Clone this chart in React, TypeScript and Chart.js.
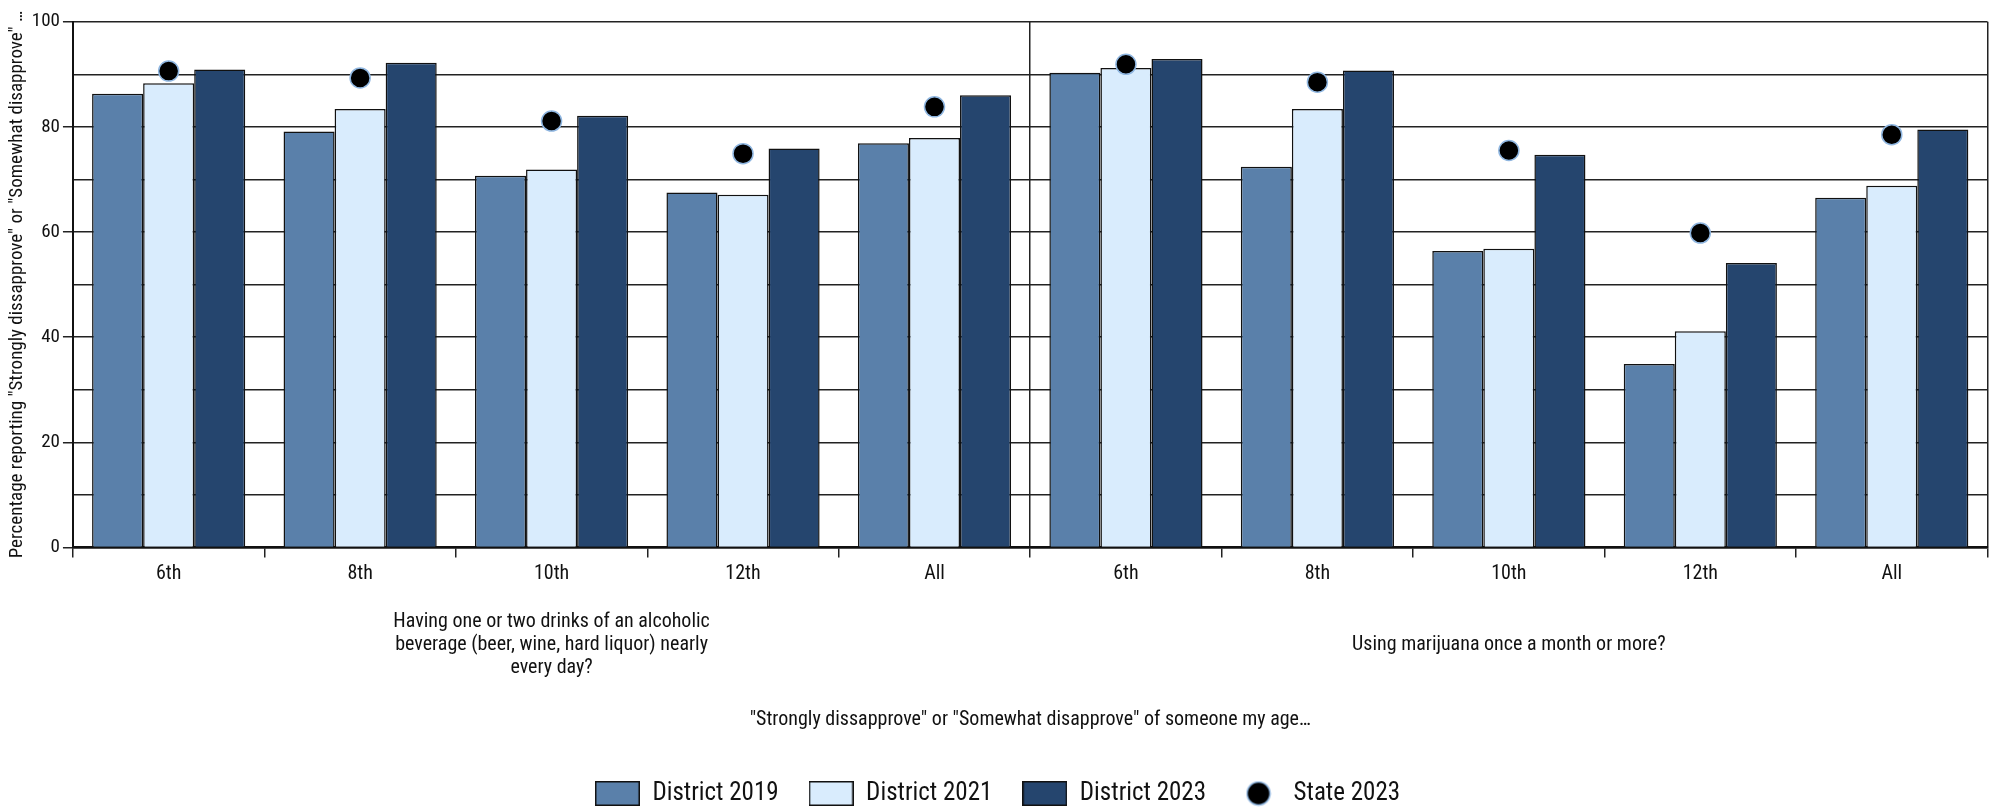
import React, { useEffect, useRef } from 'react';
import { Chart, registerables } from 'chart.js';

Chart.register(...registerables);

const GRADES = ['6th', '8th', '10th', '12th', 'All', '6th', '8th', '10th', '12th', 'All'];
const GROUP_LABELS = [
  ['Having one or two drinks of an alcoholic', 'beverage (beer, wine, hard liquor) nearly', 'every day?'],
  ['', 'Using marijuana once a month or more?', ''],
];
const SERIES_NAMES = ['District 2019', 'District 2021', 'District 2023', 'State 2023'];
const DISTRICT_2019 = [86.3, 79.1, 70.7, 67.5, 76.9, 90.3, 72.4, 56.4, 34.9, 66.5];
const DISTRICT_2021 = [88.3, 83.4, 71.9, 67.1, 77.9, 91.2, 83.4, 56.8, 41.1, 68.8];
const DISTRICT_2023 = [90.9, 92.2, 82.1, 75.9, 86.0, 92.9, 90.7, 74.7, 54.1, 79.5];
const STATE_2023 = [90.6, 89.3, 81.1, 74.9, 83.8, 91.9, 88.5, 75.5, 59.8, 78.5];
const Y_TICKS_LABELED = [0, 20, 40, 60, 80, 100];

const Y_TITLE = 'Percentage reporting "Strongly dissapprove" or "Somewhat disapprove" \u2026';
const X_TITLE = '"Strongly dissapprove" or "Somewhat disapprove" of someone my age\u2026';

const COLORS = ['#5a80aa', '#d9ecfd', '#25456e'];
const DOT_BORDER = '#8fb6e0';
const FONT = '"Liberation Sans Narrow", "Arial Narrow", "Roboto Condensed", "Liberation Sans", sans-serif';

function makeRect(fill: string) {
  const c = document.createElement('canvas');
  c.width = 45;
  c.height = 25;
  const g = c.getContext('2d')!;
  g.fillStyle = fill;
  g.fillRect(0, 0, 45, 25);
  g.strokeStyle = '#111';
  g.lineWidth = 1.5;
  g.strokeRect(0.75, 0.75, 43.5, 23.5);
  return c;
}

function makeDot() {
  const c = document.createElement('canvas');
  c.width = 26;
  c.height = 26;
  const g = c.getContext('2d')!;
  g.beginPath();
  g.arc(13, 13, 11.5, 0, Math.PI * 2);
  g.fillStyle = '#000';
  g.fill();
  g.strokeStyle = DOT_BORDER;
  g.lineWidth = 1.5;
  g.stroke();
  return c;
}

export default function App() {
  const ref = useRef<HTMLCanvasElement | null>(null);

  useEffect(() => {
    if (!ref.current) return;
    Chart.defaults.font.family = FONT;
    Chart.defaults.color = '#111';
    const legendImages = [makeRect(COLORS[0]), makeRect(COLORS[1]), makeRect(COLORS[2]), makeDot()];

    const chart = new Chart(ref.current, {
      type: 'bar',
      data: {
        labels: GRADES,
        datasets: [
          {
            type: 'line',
            label: SERIES_NAMES[3],
            data: STATE_2023,
            showLine: false,
            pointRadius: 10,
            pointHoverRadius: 10,
            pointBackgroundColor: '#000',
            pointBorderColor: DOT_BORDER,
            pointBorderWidth: 1.5,
            order: 0,
          } as any,
          {
            label: SERIES_NAMES[0],
            data: DISTRICT_2019,
            backgroundColor: COLORS[0],
            borderColor: '#111',
            borderWidth: 1.5,
            order: 1,
          },
          {
            label: SERIES_NAMES[1],
            data: DISTRICT_2021,
            backgroundColor: COLORS[1],
            borderColor: '#111',
            borderWidth: 1.5,
            order: 2,
          },
          {
            label: SERIES_NAMES[2],
            data: DISTRICT_2023,
            backgroundColor: COLORS[2],
            borderColor: '#111',
            borderWidth: 1.5,
            order: 3,
          },
        ],
      },
      options: {
        responsive: false,
        animation: false,
        devicePixelRatio: 1,
        datasets: { bar: { barPercentage: 1.0, categoryPercentage: 0.8 } },
        layout: { padding: { top: 21.7, left: 2, right: 6, bottom: -8 } },
        plugins: {
          tooltip: { enabled: false },
          legend: {
            position: 'bottom',
            labels: {
              usePointStyle: true,
              pointStyleWidth: 45,
              boxHeight: 25,
              padding: 30,
              color: '#111',
              font: { size: 25, family: FONT },
              generateLabels: () =>
                SERIES_NAMES.map((name, i) => ({
                  text: name,
                  pointStyle: legendImages[i] as any,
                  fillStyle: i < 3 ? COLORS[i] : '#000',
                  strokeStyle: '#111',
                  lineWidth: 0,
                  hidden: false,
                  datasetIndex: i === 3 ? 0 : i + 1,
                  fontColor: '#111',
                })),
            },
          },
        },
        scales: {
          x: {
            type: 'category',
            offset: true,
            weight: 0,
            grid: {
              offset: true,
              lineWidth: 1.5,
              tickLength: 10,
              tickWidth: 1.5,
              tickColor: '#222',
              color: (ctx: any) => (ctx.index === 5 || ctx.type === 'scale' ? '#222' : 'rgba(0,0,0,0)'),
            },
            border: { color: '#111', width: 2.5 },
            ticks: { font: { size: 20 }, color: '#111', padding: 5, maxRotation: 0, autoSkip: false },
          },
          x2: {
            type: 'category',
            labels: GROUP_LABELS as any,
            offset: true,
            weight: 1,
            position: 'bottom',
            grid: { display: false, drawTicks: false },
            border: { display: false },
            ticks: { font: { size: 20, lineHeight: 1.15 }, color: '#111', padding: 19.5, maxRotation: 0, autoSkip: false },
            title: {
              display: true,
              text: X_TITLE,
              font: { size: 20 },
              color: '#111',
              padding: { top: 9, bottom: 18.6 },
            },
          } as any,
          y: {
            min: 0,
            max: 100,
            ticks: {
              stepSize: 10,
              font: { size: 19 },
              color: '#111',
              padding: 3,
              callback: (v: any) => (Y_TICKS_LABELED.includes(Number(v)) ? String(v) : ''),
            },
            grid: {
              color: '#222',
              lineWidth: 1.5,
              tickLength: 10,
              tickColor: (ctx: any) =>
                ctx.tick && Y_TICKS_LABELED.includes(ctx.tick.value) ? '#222' : 'rgba(0,0,0,0)',
            },
            border: { color: '#111', width: 2 },
            title: {
              display: true,
              text: Y_TITLE,
              font: { size: 19 },
              color: '#111',
              padding: { top: 4, bottom: 0 },
            },
          },
        },
      },
    });
    return () => chart.destroy();
  }, []);

  return (
    <div style={{ position: 'absolute', left: 0, top: 0, width: 1999, height: 808, background: '#fff' }}>
      <canvas ref={ref} width={1999} height={808} style={{ display: 'block' }} />
    </div>
  );
}
